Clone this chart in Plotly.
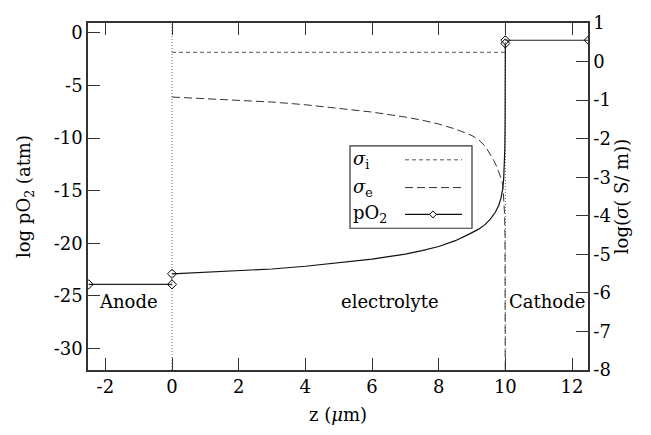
import plotly.graph_objects as go

# ---- data ----
z_anode = [-2.5, 0.0]
po2_anode = [-23.9, -23.9]

z_elec = [0, 1, 2, 3, 4, 5, 6, 7, 7.5, 8, 8.5, 8.9, 9.2, 9.4, 9.55, 9.7, 9.8, 9.87, 9.92,
          9.95, 9.97, 9.985, 9.993, 9.998, 10.0]
po2_elec = [-22.9, -22.76, -22.61, -22.44, -22.18, -21.87, -21.5, -21.02, -20.7, -20.3, -19.75,
            -19.15, -18.65, -18.2, -17.7, -17.05, -16.4, -15.7, -14.85, -13.9, -12.8, -11.0,
            -8.5, -5.0, -1.0]

z_cath = [10.0, 12.5]
po2_cath = [-0.7, -0.7]

z_sig_i = [0.0, 10.0]
sig_i = [0.24, 0.24]

z_sig_e = [0, 1, 2, 3, 4, 5, 6, 7, 7.5, 8, 8.5, 9, 9.2, 9.4, 9.55, 9.65, 9.75, 9.84, 9.9,
           9.93, 9.96, 9.98, 9.99, 9.997, 10.0]
sig_e = [-0.92, -0.96, -1.00, -1.05, -1.12, -1.21, -1.31, -1.44, -1.52, -1.62, -1.75, -1.92,
         -2.03, -2.2, -2.4, -2.56, -2.74, -2.93, -3.1, -3.27, -3.58, -4.0, -4.5, -5.5, -9.0]

boundaries = [0.0, 10.0]

x_ticks = [-2, 0, 2, 4, 6, 8, 10, 12]
x_ticktext = ["-2", "0", "2", "4", "6", "8", "10", "12"]
y_ticks = [0, -5, -10, -15, -20, -25, -30]
y_ticktext = ["0", "-5", "-10", "-15", "-20", "-25", "-30"]
y2_ticks = [1, 0, -1, -2, -3, -4, -5, -6, -7, -8]
y2_ticktext = ["1", "0", "-1", "-2", "-3", "-4", "-5", "-6", "-7", "-8"]

FONT = "DejaVu Serif"
FS = 18
AX = "#333333"

fig = go.Figure()

# sigma_i (right axis)
fig.add_trace(go.Scatter(x=z_sig_i, y=sig_i, yaxis="y2", mode="lines",
                         line=dict(color="#555555", width=1, dash="4px,3px"), showlegend=False))
# sigma_e (right axis)
fig.add_trace(go.Scatter(x=z_sig_e, y=sig_e, yaxis="y2", mode="lines",
                         line=dict(color="#333333", width=1, dash="8px,4px"), showlegend=False))

mk = dict(symbol="diamond-open", size=7, color="black", line=dict(width=1, color="black"))
# pO2 anode
fig.add_trace(go.Scatter(x=z_anode, y=po2_anode, mode="lines+markers",
                         line=dict(color="#222222", width=1.2), marker=mk, showlegend=False))
# pO2 electrolyte
fig.add_trace(go.Scatter(x=z_elec, y=po2_elec, mode="lines",
                         line=dict(color="#111111", width=1.2), showlegend=False))
fig.add_trace(go.Scatter(x=[z_elec[0], z_elec[-1]], y=[po2_elec[0], po2_elec[-1]], mode="markers",
                         marker=mk, showlegend=False))
# pO2 cathode
fig.add_trace(go.Scatter(x=z_cath, y=po2_cath, mode="lines+markers",
                         line=dict(color="#222222", width=1.2), marker=mk, showlegend=False))

shapes = []
for b in boundaries:
    shapes.append(dict(type="line", xref="x", yref="paper", x0=b, x1=b, y0=0, y1=1,
                       line=dict(color="#666666", width=1, dash="1px,2px"), layer="below"))

# custom legend (gnuplot style: label left, sample right)
L, R, T, B = 350, 472, 144, 227  # pixel box
W, H = 651, 435
ml, mr, mt, mb = 88, 63, 20, 65
pw, ph = W - ml - mr, H - mt - mb
def px(x): return (x - ml) / pw
def py(y): return 1 - (y - mt) / ph
shapes.append(dict(type="rect", xref="paper", yref="paper", x0=px(L), x1=px(R), y0=py(B), y1=py(T),
                   line=dict(color=AX, width=1.2), fillcolor="white"))
rows = [158, 186, 213]
dashes = [("4px,3px", "#555555"), ("8px,4px", "#333333"), ("solid", "#111111")]
for yy, (d, c) in zip(rows, dashes):
    shapes.append(dict(type="line", xref="paper", yref="paper", x0=px(405), x1=px(462),
                       y0=py(yy), y1=py(yy), line=dict(color=c, width=1.2 if d == "solid" else 1, dash=d)))
# diamond in legend
cx, cy, s = 433, 213, 3.5
shapes.append(dict(type="path", xref="paper", yref="paper",
                   path=f"M {px(cx-s)} {py(cy)} L {px(cx)} {py(cy-s)} L {px(cx+s)} {py(cy)} L {px(cx)} {py(cy+s)} Z",
                   line=dict(color="black", width=1), fillcolor="white"))

annotations = []
labels = ["<i>σ</i><sub>i</sub>", "<i>σ</i><sub>e</sub>", "pO<sub>2</sub>"]
for yy, t in zip(rows, labels):
    annotations.append(dict(xref="paper", yref="paper", x=px(351), y=py(yy), text=t, showarrow=False,
                            xanchor="left", yanchor="middle", font=dict(family=FONT, size=FS, color="black")))

for xx, t in [(-1.3, "Anode"), (6.55, "electrolyte"), (11.25, "Cathode")]:
    annotations.append(dict(xref="x", yref="y", x=xx, y=-25.5, text=t, showarrow=False,
                            xanchor="center", yanchor="middle", font=dict(family=FONT, size=FS, color="black")))

fig.update_layout(
    width=W, height=H,
    margin=dict(l=ml, r=mr, t=mt, b=mb),
    plot_bgcolor="white", paper_bgcolor="white",
    font=dict(family=FONT, size=FS, color="black"),
    shapes=shapes, annotations=annotations,
    xaxis=dict(range=[-2.52, 12.48], tickvals=x_ticks, ticktext=x_ticktext, ticks="inside", ticklen=12,
               tickcolor=AX, tickwidth=1.2, showline=True, linecolor=AX, linewidth=1.5, mirror="ticks",
               showgrid=False, zeroline=False,
               title=dict(text="z (<i>μ</i>m)", font=dict(family=FONT, size=FS), standoff=12)),
    yaxis=dict(range=[-32.04, 0.94], tickvals=y_ticks, ticktext=y_ticktext, ticks="inside", ticklen=12,
               tickcolor=AX, tickwidth=1.2, showline=True, linecolor=AX, linewidth=1.5,
               showgrid=False, zeroline=False,
               title=dict(text="log pO<sub>2</sub> (atm)", font=dict(family=FONT, size=FS), standoff=18)),
    yaxis2=dict(range=[-8, 1], overlaying="y", side="right", tickvals=y2_ticks, ticktext=y2_ticktext,
                ticks="inside", ticklen=12, tickcolor=AX, tickwidth=1.2, showline=True, linecolor=AX,
                linewidth=1.5, showgrid=False, zeroline=False,
                title=dict(text="log(<i>σ</i>( S/ m))", font=dict(family=FONT, size=FS), standoff=6)),
)

fig.write_html("out.html")
